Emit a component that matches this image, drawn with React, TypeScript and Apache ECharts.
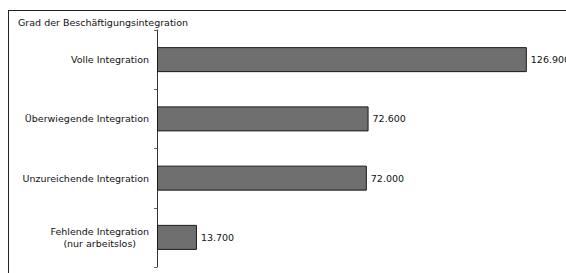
import React, { useEffect, useRef } from "react";
import * as echarts from "echarts";

const title = "Grad der Beschäftigungsintegration";
const categories = [
  "Volle Integration",
  "Überwiegende Integration",
  "Unzureichende Integration",
  "Fehlende Integration\n(nur arbeitslos)",
];
const values = [126900, 72600, 72000, 13700];

const FONT = "DejaVu Sans";

function fmt(v: number): string {
  return String(v).replace(/\B(?=(\d{3})+(?!\d))/g, ".");
}

export default function App() {
  const ref = useRef<HTMLDivElement>(null);
  useEffect(() => {
    if (!ref.current) return;
    const chart = echarts.init(ref.current, undefined, { renderer: "svg" });
    chart.setOption({
      animation: false,
      backgroundColor: "#ffffff",
      title: {
        text: title,
        left: 9,
        top: 6,
        padding: 0,
        textStyle: { fontFamily: FONT, fontSize: 9.5, fontWeight: "normal", color: "#111" },
      },
      grid: { left: 148, top: 19, width: 408, height: 237 },
      xAxis: {
        type: "value",
        min: 0,
        max: 140000,
        show: false,
      },
      yAxis: {
        type: "category",
        inverse: true,
        data: categories,
        axisLine: { show: true, lineStyle: { color: "#333", width: 1 } },
        axisTick: { show: true, length: 3, lineStyle: { color: "#666" } },
        axisLabel: {
          margin: 8,
          fontFamily: FONT,
          fontSize: 9.5,
          color: "#111",
          lineHeight: 12,
          formatter: (v: string) =>
            v.includes("\n")
              ? v
                  .split("\n")
                  .map((s) => "{c|" + s + "}")
                  .join("\n")
              : v,
          rich: {
            c: { align: "center", fontFamily: FONT, fontSize: 9.5, color: "#111", lineHeight: 12 },
          },
        },
        splitLine: { show: false },
      },
      series: [
        {
          type: "bar",
          data: values,
          barWidth: 25,
          itemStyle: { color: "#6f6f6f", borderColor: "#1a1a1a", borderWidth: 1 },
          label: {
            show: true,
            position: "right",
            distance: 4,
            fontFamily: FONT,
            fontSize: 9.5,
            color: "#111",
            formatter: (p: any) => fmt(p.value),
          },
        },
      ],
    });
    return () => chart.dispose();
  }, []);
  return (
    <div
      style={{
        position: "fixed",
        left: 8,
        top: 10,
        width: 558,
        height: 263,
        borderLeft: "1px solid #222",
        borderTop: "1px solid #222",
        boxSizing: "border-box",
        overflow: "hidden",
        background: "#fff",
      }}
    >
      <div ref={ref} style={{ width: 557, height: 262 }} />
    </div>
  );
}
